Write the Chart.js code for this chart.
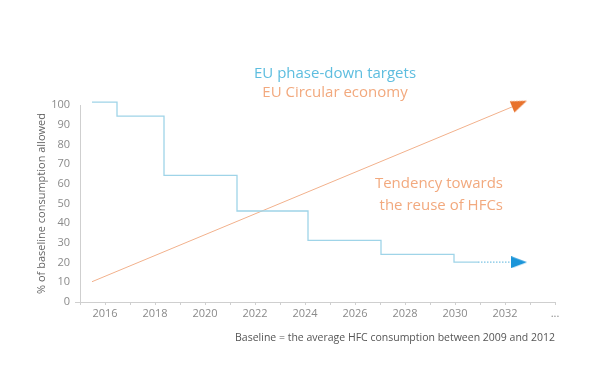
<!DOCTYPE html>
<html>
<head>
<meta charset="utf-8">
<script src="https://cdn.jsdelivr.net/npm/chart.js@4/dist/chart.umd.min.js"></script>
<style>
html,body{margin:0;padding:0;background:#fff;}
#wrap{width:615px;height:390px;}
</style>
</head>
<body>
<div id="wrap"><canvas id="c" width="615" height="390"></canvas></div>
<script>
// ---- data ----
const phaseYears  = [2015.48, 2016.48, 2018.36, 2021.28, 2024.12, 2027.04, 2029.96, 2030.92];
const phaseValues = [101.5, 94.4, 64.3, 46.2, 31.3, 24.2, 20.2, 20.2];
const phaseTrendYears  = [2030.92, 2032.56];
const phaseTrendValues = [20.2, 20.2];
const circularYears  = [2015.48, 2032.58];
const circularValues = [10.3, 100.6];
const tickLabelYears = [2016, 2018, 2020, 2022, 2024, 2026, 2028, 2030, 2032];
const lastTickYear = 2034;
const lastTickLabel = '...';
const yTicks = [0,10,20,30,40,50,60,70,80,90,100];
const texts = {
  phaseTitle: 'EU phase-down targets',
  circularTitle: 'EU Circular economy',
  tendency: ['Tendency towards', 'the reuse of HFCs'],
  yTitle: '% of baseline consumption allowed',
  xTitle: 'Baseline = the average HFC consumption between 2009 and 2012'
};
// ------------------------------------

const FONT = "'Open Sans', 'Noto Sans', sans-serif";

function arrowImage(color) {
  const cv = document.createElement('canvas');
  cv.width = 16; cv.height = 12;
  const g = cv.getContext('2d');
  g.fillStyle = color;
  g.beginPath();
  g.moveTo(0, 0); g.lineTo(16, 6); g.lineTo(0, 12); g.closePath();
  g.fill();
  return cv;
}
const blueArrow = arrowImage('#1b95d9');
const orangeArrow = arrowImage('#e8722c');

function zip(xs, ys) { return xs.map((x, i) => ({x: x, y: ys[i]})); }

function arrowRotation(xs, ys) {
  return function(ctx) {
    const sx = ctx.chart.scales.x, sy = ctx.chart.scales.y;
    const n = xs.length;
    const dx = sx.getPixelForValue(xs[n-1]) - sx.getPixelForValue(xs[n-2]);
    const dy = sy.getPixelForValue(ys[n-1]) - sy.getPixelForValue(ys[n-2]);
    return Math.atan2(dy, dx) * 180 / Math.PI;
  };
}

const annotations = {
  id: 'annotations',
  afterDraw(chart) {
    const c = chart.ctx, sx = chart.scales.x, sy = chart.scales.y;
    c.save();
    c.textBaseline = 'middle';
    c.font = "15px " + FONT;
    c.textAlign = 'center';
    c.fillStyle = '#5dbddf';
    c.fillText(texts.phaseTitle, sx.getPixelForValue(2025.2), sy.getPixelForValue(115.7));
    c.fillStyle = '#f2a97e';
    c.fillText(texts.circularTitle, sx.getPixelForValue(2025.2), sy.getPixelForValue(106.1));
    c.textAlign = 'right';
    c.fillText(texts.tendency[0], sx.getPixelForValue(2031.92), sy.getPixelForValue(59.9));
    c.fillText(texts.tendency[1], sx.getPixelForValue(2031.92), sy.getPixelForValue(48.7));
    c.restore();
  }
};

new Chart(document.getElementById('c'), {
  type: 'line',
  data: {
    datasets: [
      {
        data: zip(phaseYears, phaseValues),
        stepped: 'before',
        borderColor: '#9fd4e8',
        borderWidth: 1.3,
        pointRadius: 0,
        fill: false,
        clip: false
      },
      {
        data: zip(phaseTrendYears, phaseTrendValues),
        borderColor: '#7cc3e3',
        borderWidth: 1.2,
        borderDash: [1.5, 1.5],
        pointRadius: phaseTrendYears.map((_, i) => i === phaseTrendYears.length - 1 ? 6 : 0),
        pointStyle: blueArrow,
        rotation: arrowRotation(phaseTrendYears, phaseTrendValues),
        fill: false,
        clip: false
      },
      {
        data: zip(circularYears, circularValues),
        borderColor: '#f2b18c',
        borderWidth: 1,
        pointRadius: circularYears.map((_, i) => i === circularYears.length - 1 ? 6 : 0),
        pointStyle: orangeArrow,
        rotation: arrowRotation(circularYears, circularValues),
        fill: false,
        clip: false
      }
    ]
  },
  options: {
    responsive: false,
    animation: false,
    events: [],
    layout: { padding: { top: 105, right: 60, bottom: 28, left: 0 } },
    plugins: { legend: { display: false }, tooltip: { enabled: false } },
    scales: {
      x: {
        type: 'linear',
        min: 2015,
        max: lastTickYear,
        afterFit(s) { s.height = 60; },
        afterBuildTicks(s) {
          const t = [];
          for (let v = 2015; v <= lastTickYear; v++) t.push({value: v});
          s.ticks = t;
        },
        ticks: {
          autoSkip: false,
          maxRotation: 0,
          padding: 2,
          color: '#8a8a8a',
          font: { family: FONT, size: 11 },
          callback: v => v === lastTickYear ? lastTickLabel : (tickLabelYears.includes(v) ? String(v) : '')
        },
        grid: { drawOnChartArea: false, tickLength: 3, color: '#cfcfcf' },
        border: { color: '#cfcfcf', width: 1 },
        title: {
          display: true,
          text: texts.xTitle,
          align: 'end',
          color: '#555555',
          font: { family: FONT, size: 10.5 },
          padding: { top: 0, bottom: 18 }
        }
      },
      y: {
        min: 0,
        max: 100,
        afterFit(s) { s.width = 80; },
        afterBuildTicks(s) { s.ticks = yTicks.map(v => ({value: v})); },
        ticks: {
          color: '#8a8a8a',
          padding: 5,
          font: { family: FONT, size: 11 }
        },
        grid: {
          drawOnChartArea: false,
          tickLength: 5,
          color: ctx => (ctx.tick && ctx.tick.value === 0) ? '#cfcfcf' : 'rgba(0,0,0,0)'
        },
        border: { color: '#cfcfcf', width: 1 },
        title: {
          display: true,
          text: texts.yTitle,
          color: '#666666',
          font: { family: FONT, size: 11 },
          padding: { top: 35, bottom: 0 }
        }
      }
    }
  },
  plugins: [annotations]
});
</script>
</body>
</html>
